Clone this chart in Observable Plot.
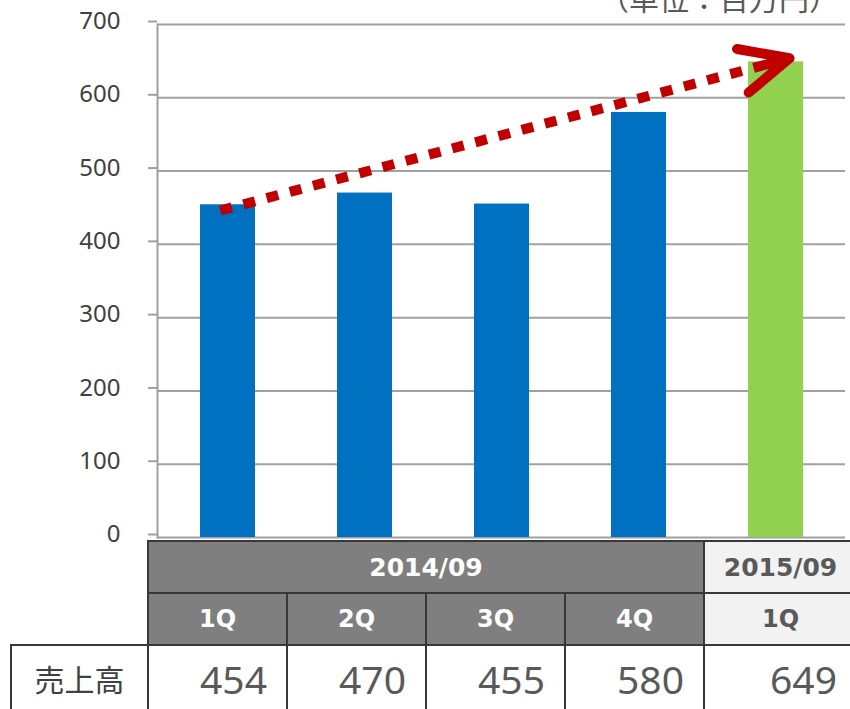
<!DOCTYPE html>
<html>
<head>
<meta charset="utf-8">
<script src="https://cdn.jsdelivr.net/npm/d3@7"></script>
<script src="https://cdn.jsdelivr.net/npm/@observablehq/plot@0.6"></script>
<style>
  html, body { margin: 0; padding: 0; background: #fff; }
  body { width: 850px; height: 709px; overflow: hidden; position: relative;
         font-family: "Noto Sans", "Noto Sans CJK JP", sans-serif; }
  #chart { position: absolute; left: 0; top: 0; }
  #unit { position: absolute; left: 0; top: 0; }
  .cell { position: absolute; box-sizing: border-box; border: 2.5px solid #383838;
          display: flex; align-items: center; justify-content: center; white-space: nowrap; }
  .dark { background: #7f7f7f; color: #fff; font-family: "DejaVu Sans", sans-serif; font-weight: bold; }
  .light { background: #f2f2f2; color: #595959; font-family: "DejaVu Sans", sans-serif; font-weight: bold; }
  .val { background: #fff; color: #595959; justify-content: flex-end; padding-right: 19px;
         font-family: "Noto Sans", sans-serif; font-size: 39px; }
  .lab { background: #fff; color: #404040; font-family: "Noto Sans CJK JP", sans-serif; font-size: 30px; }
</style>
</head>
<body>
<div id="chart"></div>
<div id="table"></div>
<script>
// ---- data ----
const categories  = ["2014/09 1Q", "2014/09 2Q", "2014/09 3Q", "2014/09 4Q", "2015/09 1Q"];
const fiscalYears = ["2014/09", "2014/09", "2014/09", "2014/09", "2015/09"];
const quarters    = ["1Q", "2Q", "3Q", "4Q", "1Q"];
const sales       = [454, 470, 455, 580, 649];
const yTicks      = [0, 100, 200, 300, 400, 500, 600, 700];
const rowLabel    = "売上高";
const unitLabel   = "（単位：百万円）";
// trend arrow: from first quarter to latest quarter
const trendFrom   = {cat: "2014/09 1Q", v: 449};
const trendTo     = {cat: "2015/09 1Q", v: 649};

const data = categories.map((c, i) => ({cat: c, fy: fiscalYears[i], q: quarters[i], v: sales[i]}));
const trend = [{x1: trendFrom.cat, y1: trendFrom.v, x2: trendTo.cat, y2: trendTo.v}];

const chart = Plot.plot({
  width: 850,
  height: 541,
  marginLeft: 157,
  marginRight: 5,
  marginTop: 24,
  marginBottom: 4,
  style: {fontFamily: "'Noto Sans', sans-serif", background: "transparent", overflow: "visible"},
  x: {domain: categories, paddingInner: 0.6, paddingOuter: 0.3, axis: null},
  y: {domain: [0, 700], axis: null},
  color: {domain: ["2014/09", "2015/09"], range: ["#0070c0", "#92d050"]},
  marks: [
    Plot.gridY(yTicks, {stroke: "#a0a0a0", strokeOpacity: 1, strokeWidth: 2}),
    Plot.axisY(yTicks, {tickSize: 9, tickPadding: 28, stroke: "#a0a0a0", strokeWidth: 2,
                        fill: "#404040", fontSize: 24, dy: -3, label: null}),
    Plot.frame({anchor: "left", stroke: "#a0a0a0", strokeWidth: 2}),
    Plot.barY(data, {x: "cat", y: "v", fill: "fy"}),
    Plot.arrow(trend, {x1: "x1", y1: "y1", x2: "x2", y2: "y2", stroke: "#c00000", strokeWidth: 10,
                       strokeDasharray: "12,12", strokeLinecap: "butt", headLength: 0,
                       insetStart: -8, insetEnd: -14}),
    Plot.arrow(trend, {x1: "x1", y1: "y1", x2: "x2", y2: "y2", stroke: "#c00000", strokeWidth: 10,
                       strokeLinecap: "round", strokeLinejoin: "round", headLength: 8, headAngle: 50,
                       insetStart: 558, insetEnd: -14})
  ]
});
document.getElementById("chart").appendChild(chart);

// unit label (cut off at the top, as in the original)
const ns = "http://www.w3.org/2000/svg";
const us = document.createElementNS(ns, "svg");
us.setAttribute("id", "unit"); us.setAttribute("width", 850); us.setAttribute("height", 30);
const ut = document.createElementNS(ns, "text");
ut.setAttribute("x", 599); ut.setAttribute("y", 10);
ut.setAttribute("font-family", "'Noto Sans CJK JP', sans-serif");
ut.setAttribute("font-size", 30); ut.setAttribute("fill", "#595959");
ut.textContent = unitLabel;
us.appendChild(ut);
document.body.appendChild(us);

// ---- data table below the chart ----
const colEdges = [148, 287, 426, 565, 704, 857];
const rowEdges = [541, 593, 645, 711];
const tbl = document.getElementById("table");
function cell(x0, x1, y0, y1, cls, text, fs) {
  const d = document.createElement("div");
  d.className = "cell " + cls;
  d.style.left = (x0 - 1) + "px"; d.style.top = (y0 - 1) + "px";
  d.style.width = (x1 - x0 + 2) + "px"; d.style.height = (y1 - y0 + 2) + "px";
  if (fs) d.style.fontSize = fs + "px";
  d.textContent = text;
  tbl.appendChild(d);
}
// fiscal-year header row (merge consecutive equal years)
let start = 0;
for (let i = 1; i <= fiscalYears.length; i++) {
  if (i === fiscalYears.length || fiscalYears[i] !== fiscalYears[start]) {
    const latest = fiscalYears[start] === fiscalYears[fiscalYears.length - 1];
    cell(colEdges[start], colEdges[i], rowEdges[0], rowEdges[1], latest ? "light" : "dark", fiscalYears[start], 25);
    start = i;
  }
}
quarters.forEach((q, i) => {
  const latest = fiscalYears[i] === fiscalYears[fiscalYears.length - 1];
  cell(colEdges[i], colEdges[i + 1], rowEdges[1], rowEdges[2], latest ? "light" : "dark", q, 24);
});
cell(11, colEdges[0], rowEdges[2], rowEdges[3], "lab", rowLabel);
sales.forEach((v, i) => cell(colEdges[i], colEdges[i + 1], rowEdges[2], rowEdges[3], "val", String(v)));
</script>
</body>
</html>
